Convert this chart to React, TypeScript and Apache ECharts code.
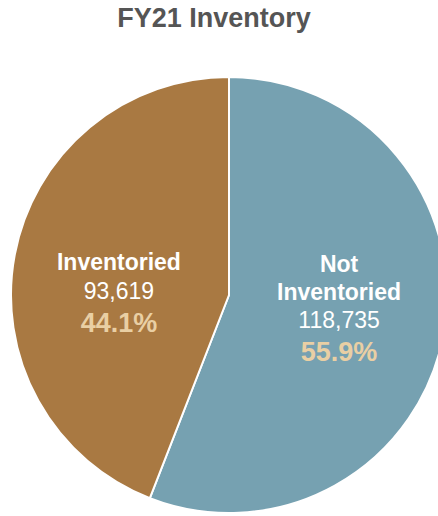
import React, { useEffect, useRef } from "react";
import * as echarts from "echarts";

const categories = ["Not Inventoried", "Inventoried"];
const labelNames = [["Not", "Inventoried"], ["Inventoried"]];
const values = [118735, 93619];
const colors = ["#76A1B1", "#A97942"];
const titleText = "FY21 Inventory";

export default function App() {
  const ref = useRef<HTMLDivElement>(null);
  useEffect(() => {
    document.body.style.margin = "0";
    const chart = echarts.init(ref.current!, null, { renderer: "svg" });
    const total = values.reduce((a, b) => a + b, 0);
    const font = "'Liberation Sans', Arial, Helvetica, sans-serif";
    chart.setOption({
      animation: false,
      textStyle: { fontFamily: font },
      graphic: [
        {
          type: "text",
          x: 214,
          y: 4,
          style: {
            text: titleText,
            fontSize: 27,
            fontWeight: "bold",
            fill: "#555555",
            textAlign: "center",
            fontFamily: font,
          },
        },
      ],
      series: [
        {
          type: "pie",
          center: [229, 295],
          radius: 218,
          startAngle: 90,
          clockwise: true,
          silent: true,
          itemStyle: { borderColor: "#ffffff", borderWidth: 2 },
          labelLine: { show: false },
          data: categories.map((c, i) => ({
            name: c,
            value: values[i],
            itemStyle: { color: colors[i] },
            label: { offset: [0, i === 0 ? -6 : 20] },
          })),
          label: {
            show: true,
            position: "inside",
            formatter: (p: any) => {
              const idx = p.dataIndex;
              const names = labelNames[idx].map((n) => `{name|${n}}`).join("\n");
              const pct = ((values[idx] / total) * 100).toFixed(1);
              return `${names}\n{val|${values[idx].toLocaleString("en-US")}}\n{pct|${pct}%}`;
            },
            rich: {
              name: { fontSize: 23, fontWeight: "bold", color: "#ffffff", lineHeight: 28, fontFamily: font },
              val: { fontSize: 23, color: "#ffffff", lineHeight: 29, fontFamily: font },
              pct: { fontSize: 27, fontWeight: "bold", color: "#E9CFA4", lineHeight: 35, fontFamily: font },
            },
          },
        },
      ],
    });
    return () => chart.dispose();
  }, []);
  return <div ref={ref} style={{ width: 438, height: 516 }} />;
}
